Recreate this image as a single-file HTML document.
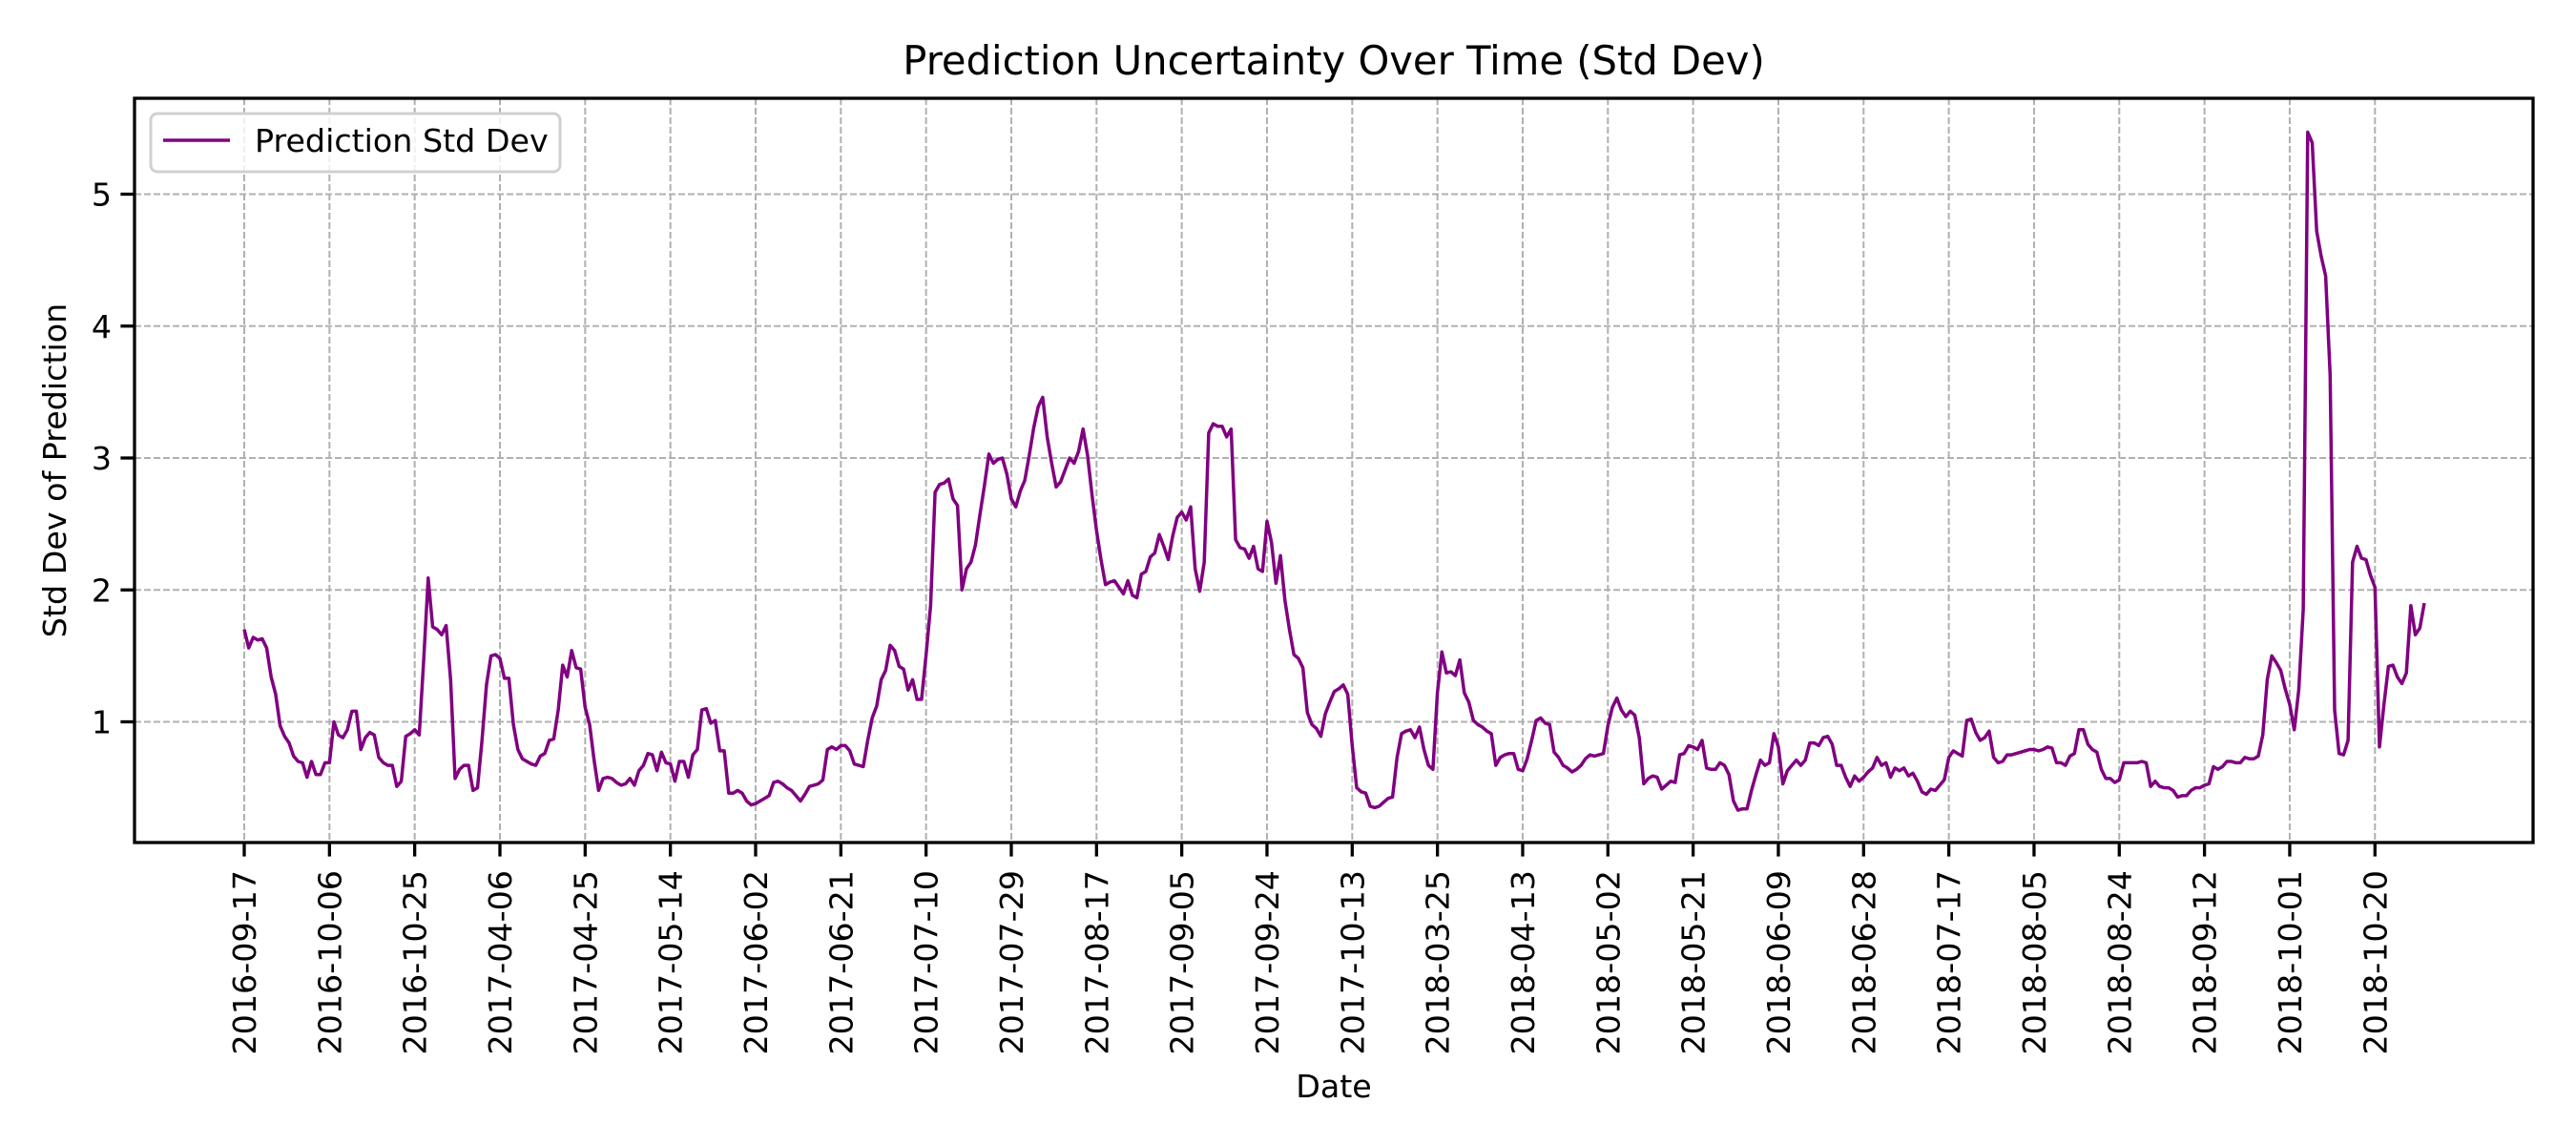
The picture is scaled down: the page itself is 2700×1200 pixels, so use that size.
<!DOCTYPE html>
<html><head><meta charset="utf-8"><title>Prediction Uncertainty Over Time</title>
<style>html,body{margin:0;padding:0;background:#fff}svg{display:block;font-family:"DejaVu Sans","Liberation Sans",sans-serif}</style>
</head><body>
<svg id="chart" width="2700" height="1200" viewBox="0 0 2700 1200" xmlns="http://www.w3.org/2000/svg">
<rect x="0" y="0" width="2700" height="1200" fill="#fff"/>
<text x="1398" y="78" font-size="41.7" text-anchor="middle">Prediction Uncertainty Over Time (Std Dev)</text>
<g id="grid"></g>
<g id="series"></g>
<g id="axes"></g>
<text x="1398" y="1150" font-size="33.3" text-anchor="middle">Date</text>
<text x="0" y="0" font-size="33.3" text-anchor="middle" transform="translate(69,493) rotate(-90)">Std Dev of Prediction</text>
<g>
<rect x="158" y="119" width="429" height="61" rx="7" fill="#fff" fill-opacity="0.8" stroke="#d0d0d0" stroke-width="3"/>
<line x1="171" y1="147" x2="241" y2="147" stroke="purple" stroke-width="3.5"/>
<text x="267" y="159" font-size="33.3">Prediction Std Dev</text>
</g>
</svg>
<script>
const tickLabels = ["2016-09-17","2016-10-06","2016-10-25","2017-04-06","2017-04-25","2017-05-14","2017-06-02","2017-06-21","2017-07-10","2017-07-29","2017-08-17","2017-09-05","2017-09-24","2017-10-13","2018-03-25","2018-04-13","2018-05-02","2018-05-21","2018-06-09","2018-06-28","2018-07-17","2018-08-05","2018-08-24","2018-09-12","2018-10-01","2018-10-20"];
const tickStep = 19;
const yTicks = [1,2,3,4,5];
const stdDev = [
1.70,1.56,1.64,1.62,1.63,1.56,1.34,1.21,0.97,0.89,0.84,0.74,0.70,0.69,0.58,0.70,0.60,0.60,0.69,0.69,
1.00,0.90,0.88,0.94,1.08,1.08,0.79,0.88,0.92,0.90,0.73,0.69,0.67,0.67,0.51,0.55,0.89,0.91,0.94,0.90,
1.47,2.09,1.72,1.70,1.66,1.73,1.32,0.57,0.64,0.67,0.67,0.48,0.50,0.86,1.28,1.50,1.51,1.48,1.33,1.33,
0.98,0.79,0.72,0.70,0.68,0.67,0.74,0.76,0.86,0.87,1.09,1.43,1.34,1.54,1.41,1.40,1.11,0.98,0.71,0.48,
0.57,0.58,0.57,0.54,0.52,0.53,0.57,0.52,0.63,0.67,0.76,0.75,0.63,0.77,0.69,0.68,0.55,0.70,0.70,0.58,
0.75,0.79,1.09,1.10,0.99,1.01,0.78,0.78,0.46,0.46,0.48,0.46,0.40,0.37,0.38,0.40,0.42,0.44,0.54,0.55,
0.53,0.50,0.48,0.44,0.40,0.45,0.51,0.52,0.53,0.56,0.79,0.81,0.79,0.82,0.82,0.78,0.68,0.67,0.66,0.86,
1.03,1.12,1.32,1.39,1.58,1.54,1.42,1.40,1.24,1.32,1.17,1.17,1.51,1.88,2.74,2.80,2.81,2.84,2.69,2.64,
2.00,2.16,2.21,2.34,2.57,2.79,3.03,2.96,2.99,3.00,2.88,2.69,2.63,2.75,2.83,3.02,3.23,3.39,3.46,3.16,
2.96,2.78,2.82,2.91,3.00,2.96,3.05,3.22,3.02,2.72,2.45,2.23,2.04,2.06,2.07,2.02,1.97,2.07,1.96,1.94,
2.12,2.14,2.25,2.28,2.42,2.33,2.23,2.41,2.55,2.59,2.53,2.63,2.16,1.99,2.21,3.19,3.26,3.24,3.24,3.16,
3.22,2.38,2.32,2.31,2.24,2.33,2.16,2.14,2.52,2.36,2.05,2.26,1.92,1.70,1.51,1.48,1.41,1.07,0.98,0.95,
0.89,1.06,1.15,1.23,1.25,1.28,1.21,0.82,0.50,0.47,0.46,0.36,0.35,0.36,0.39,0.42,0.43,0.73,0.91,0.93,
0.94,0.88,0.96,0.79,0.67,0.64,1.22,1.53,1.37,1.38,1.35,1.47,1.22,1.15,1.01,0.98,0.96,0.93,0.91,0.67,
0.73,0.75,0.76,0.76,0.64,0.63,0.72,0.86,1.01,1.03,0.99,0.98,0.77,0.73,0.67,0.65,0.62,0.64,0.67,0.72,
0.75,0.74,0.75,0.76,0.97,1.11,1.18,1.09,1.04,1.08,1.05,0.88,0.53,0.57,0.59,0.58,0.49,0.52,0.55,0.54,
0.75,0.76,0.82,0.81,0.79,0.86,0.65,0.64,0.64,0.69,0.67,0.60,0.40,0.33,0.34,0.34,0.48,0.60,0.71,0.67,
0.69,0.91,0.81,0.53,0.63,0.67,0.71,0.67,0.71,0.84,0.84,0.82,0.88,0.89,0.83,0.67,0.67,0.58,0.51,0.59,
0.55,0.58,0.62,0.65,0.73,0.67,0.69,0.58,0.65,0.63,0.65,0.59,0.61,0.55,0.47,0.45,0.49,0.48,0.52,0.56,
0.73,0.78,0.76,0.74,1.01,1.02,0.92,0.86,0.88,0.93,0.73,0.69,0.70,0.75,0.75,0.76,0.77,0.78,0.79,0.79,
0.78,0.79,0.81,0.80,0.69,0.69,0.67,0.74,0.76,0.94,0.94,0.83,0.79,0.77,0.64,0.57,0.57,0.54,0.56,0.69,
0.69,0.69,0.69,0.70,0.69,0.51,0.55,0.51,0.50,0.50,0.48,0.43,0.44,0.44,0.48,0.50,0.50,0.52,0.53,0.66,
0.64,0.66,0.70,0.70,0.69,0.69,0.73,0.72,0.72,0.74,0.90,1.32,1.50,1.45,1.39,1.25,1.13,0.94,1.24,1.85,
5.47,5.39,4.72,4.53,4.38,3.63,1.09,0.76,0.75,0.86,2.21,2.33,2.24,2.23,2.11,2.02,0.81,1.13,1.42,1.43,
1.34,1.29,1.37,1.88,1.66,1.71,1.90
];
const NS = "http://www.w3.org/2000/svg";
const L = 141, R = 2655, T = 103, B = 883;
const N = stdDev.length;
const x0 = 256, x1 = 2541;
function xScale(i){ return x0 + (x1 - x0) * i / (N - 1); }
function yScale(v){ return 894.75 - v * 138.25; }
function mk(tag, attrs, parent){ const e = document.createElementNS(NS, tag); for (const k in attrs) e.setAttribute(k, attrs[k]); parent.appendChild(e); return e; }
const grid = document.getElementById('grid'), axes = document.getElementById('axes'), series = document.getElementById('series');
tickLabels.forEach((lab, k) => {
  const x = xScale(k * tickStep);
  const g = mk('line', {x1:x, x2:x, y1:T, y2:B, stroke:'#b0b0b0', 'stroke-width':2, 'stroke-dasharray':'7,3'}, grid);
  
  
  const t = mk('line', {x1:x, x2:x, y1:B, y2:B+14.6, stroke:'#000', 'stroke-width':3.3}, axes);
  
  
  const tx = mk('text', {x:0, y:0, 'font-size':33.3, 'text-anchor':'end', transform:`translate(${x+12},${B+29}) rotate(-90)`}, axes);
  
  
  tx.textContent = lab;
});
yTicks.forEach(v => {
  const y = yScale(v);
  const g = mk('line', {x1:L, x2:R, y1:y, y2:y, stroke:'#b0b0b0', 'stroke-width':2, 'stroke-dasharray':'7,3'}, grid);
  
  
  const t = mk('line', {x1:L-14.6, x2:L, y1:y, y2:y, stroke:'#000', 'stroke-width':3.3}, axes);
  
  
  const tx = mk('text', {x:L-24, y:y+12, 'font-size':33.3, 'text-anchor':'end'}, axes);
  
  
  tx.textContent = String(v);
});
const frame = mk('rect', {x:L, y:T, width:R-L, height:B-T, fill:'none', stroke:'#000', 'stroke-width':3.3}, axes);


const pts = stdDev.map((v, i) => xScale(i).toFixed(1) + ',' + yScale(v).toFixed(1)).join(' ');
const line = mk('polyline', {points:pts, fill:'none', stroke:'purple', 'stroke-width':3.5, 'stroke-linejoin':'round'}, series);


</script>
</body></html>
